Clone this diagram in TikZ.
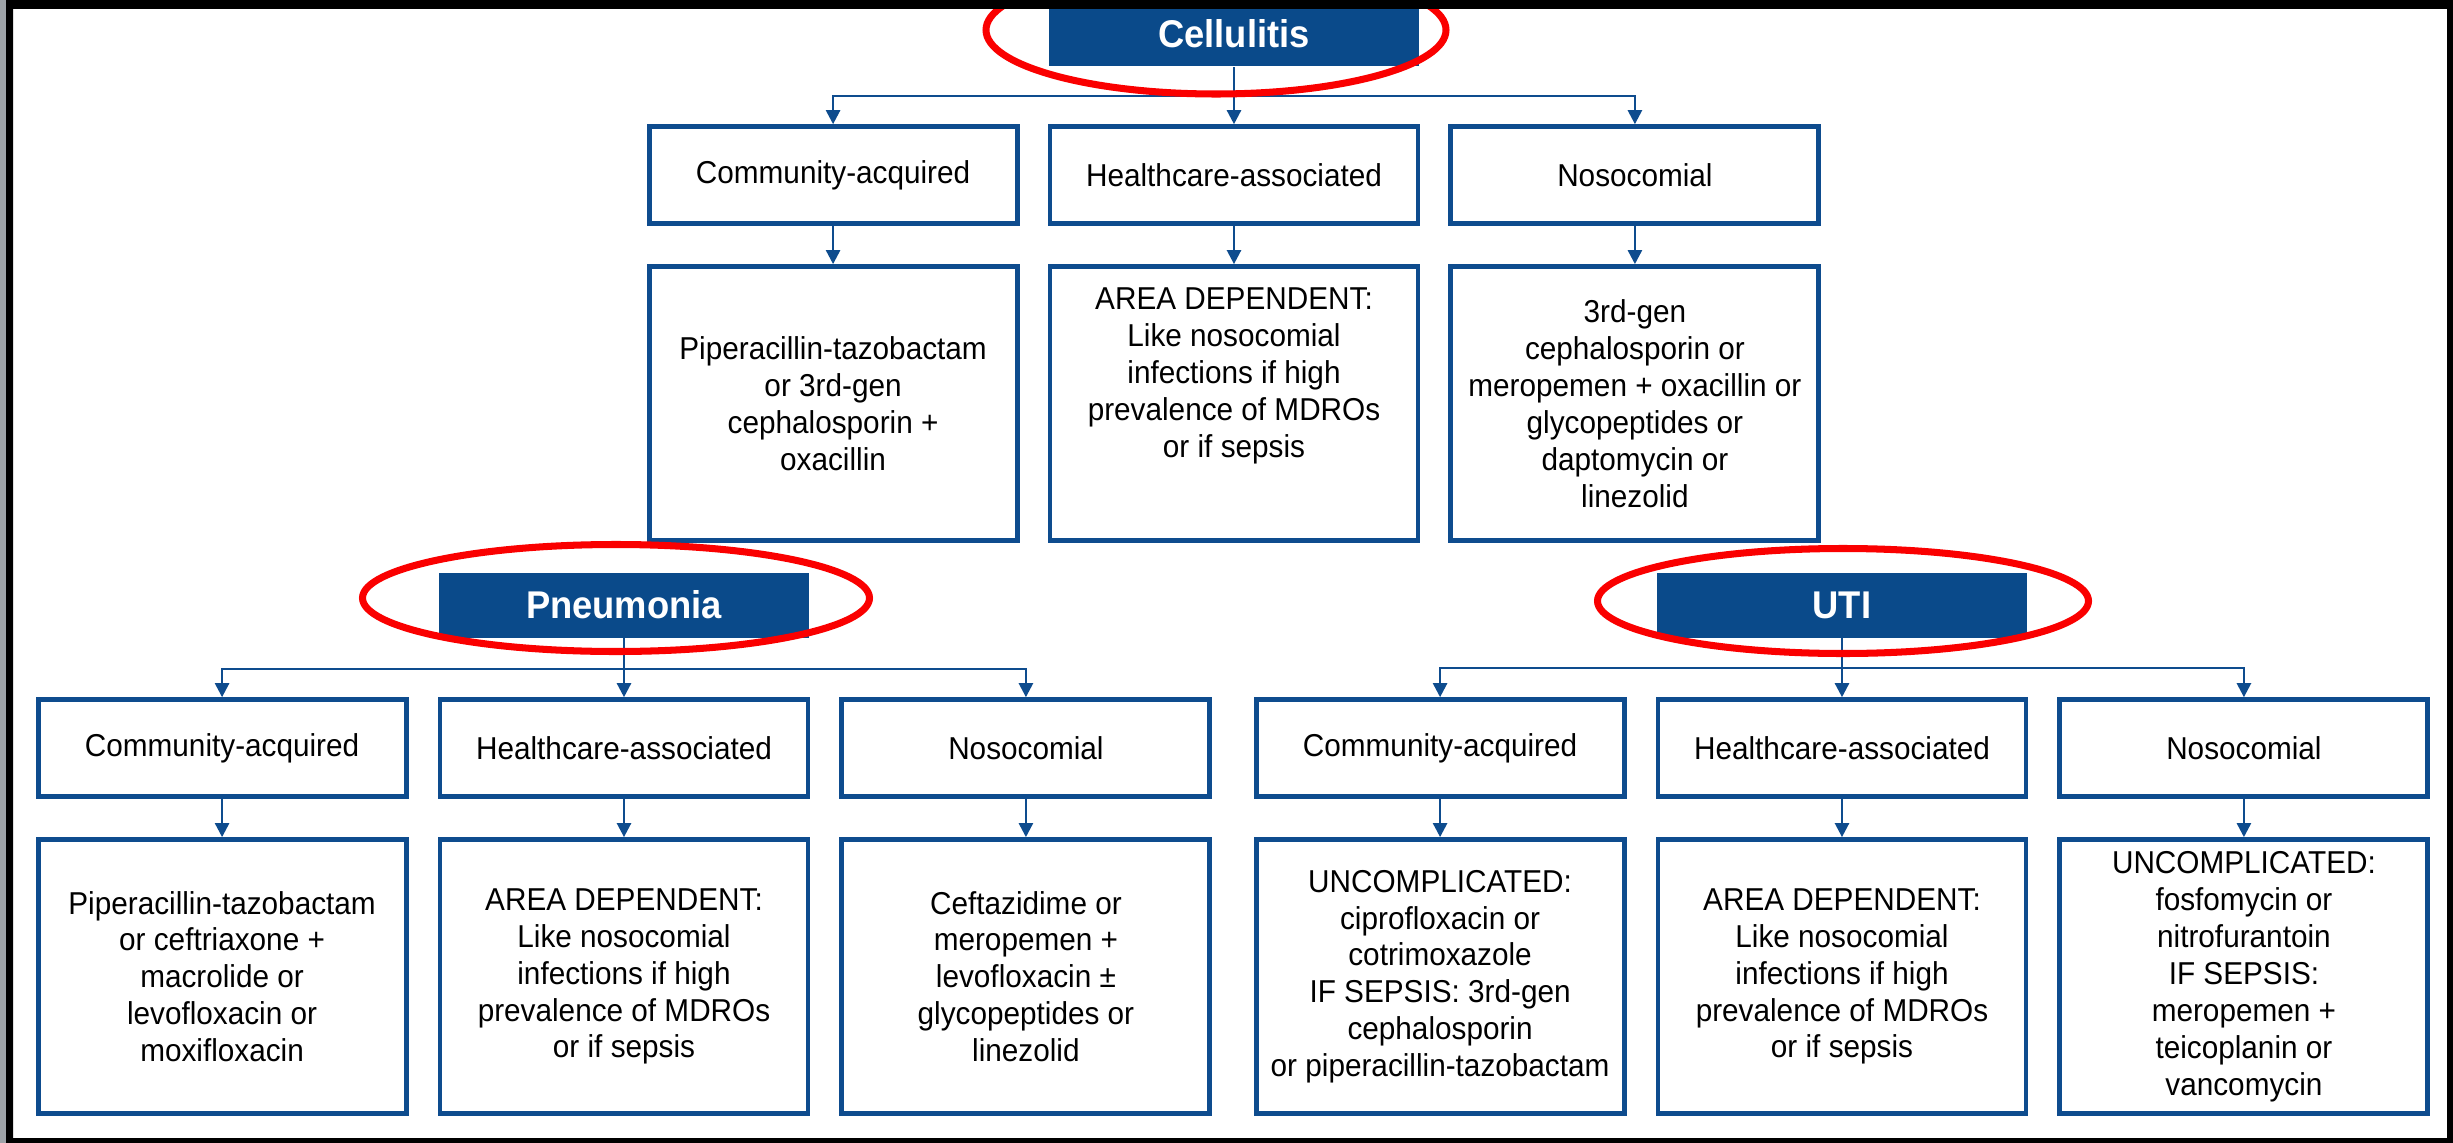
\documentclass[tikz,border=0pt]{standalone}
\usepackage{fontspec}
\setmainfont{Liberation Sans}[FakeStretch=0.94]
\usepackage{tikz}
\usetikzlibrary{positioning, arrows.meta, shapes.geometric}

\definecolor{hdblue}{RGB}{10,74,138}
\definecolor{boxblue}{RGB}{14,76,142}
\definecolor{ringred}{RGB}{250,0,0}
\definecolor{edgegray}{RGB}{158,163,168}

\begin{document}
\begin{tikzpicture}[
    node distance=0.38cm and 0.28cm,
    head/.style={rectangle, fill=hdblue, text=white, font=\fontsize{11}{13}\selectfont\bfseries, minimum width=3.70cm, minimum height=0.65cm, inner sep=0pt},
    cat/.style={rectangle, draw=boxblue, line width=1.4pt, fill=white, minimum width=3.68cm, minimum height=0.97cm, align=center, inner sep=2pt, font=\fontsize{9}{10.5}\selectfont},
    rx/.style={cat, minimum height=2.74cm},
    arrow/.style={-{Triangle[width=0.14cm, length=0.14cm]}, draw=boxblue, line width=0.7pt},
    ring/.style={draw=ringred, line width=2pt}
  ]
    \useasboundingbox (0,0) rectangle (24.53,-11.43);
    % Frame
    \fill[black] (0,0) rectangle (24.53,-11.43);
    \fill[white] (0.13,-0.09) rectangle (24.47,-11.38);

    % Cellulitis
    \node[head] (cel) at (12.34,-0.34) {Cellulitis};
    \node[cat, below=0.57cm of cel] (celHA) {Healthcare-associated};
    \node[cat, left=of celHA] (celCA) {Community-acquired};
    \node[cat, right=of celHA] (celNO) {Nosocomial};
    \node[rx, below=of celCA] (celCAt) {Piperacillin-tazobactam\\or 3rd-gen\\cephalosporin +\\oxacillin};
    \node[rx, below=of celHA] (celHAt) {AREA DEPENDENT:\\Like nosocomial\\infections if high\\prevalence of MDROs\\or if sepsis\\[0.25cm]};
    \node[rx, below=of celNO] (celNOt) {3rd-gen\\cephalosporin or\\meropemen + oxacillin or\\glycopeptides or\\daptomycin or\\linezolid};

    % Pneumonia
    \node[head] (pn) at (6.24,-6.05) {Pneumonia};
    \node[cat, below=0.59cm of pn] (pnHA) {Healthcare-associated};
    \node[cat, left=0.29cm of pnHA] (pnCA) {Community-acquired};
    \node[cat, right=0.29cm of pnHA] (pnNO) {Nosocomial};
    \node[rx, below=of pnCA] (pnCAt) {Piperacillin-tazobactam\\or ceftriaxone +\\macrolide or\\levofloxacin or\\moxifloxacin};
    \node[rx, below=of pnHA] (pnHAt) {AREA DEPENDENT:\\Like nosocomial\\infections if high\\prevalence of MDROs\\or if sepsis};
    \node[rx, below=of pnNO] (pnNOt) {Ceftazidime or\\meropemen +\\levofloxacin ±\\glycopeptides or\\linezolid};

    % UTI
    \node[head] (uti) at (18.42,-6.05) {UTI};
    \node[cat, below=0.59cm of uti] (utiHA) {Healthcare-associated};
    \node[cat, left=0.29cm of utiHA] (utiCA) {Community-acquired};
    \node[cat, right=0.29cm of utiHA] (utiNO) {Nosocomial};
    \node[rx, below=of utiCA] (utiCAt) {UNCOMPLICATED:\\ciprofloxacin or\\cotrimoxazole\\IF SEPSIS: 3rd-gen\\cephalosporin\\or piperacillin-tazobactam};
    \node[rx, below=of utiHA] (utiHAt) {AREA DEPENDENT:\\Like nosocomial\\infections if high\\prevalence of MDROs\\or if sepsis};
    \node[rx, below=of utiNO] (utiNOt) {UNCOMPLICATED:\\fosfomycin or\\nitrofurantoin\\IF SEPSIS:\\meropemen +\\teicoplanin or\\vancomycin};

    % Arrows
    \draw[arrow] (cel.south) -- ++(0,-0.29) -| (celCA.north);
    \draw[arrow] (cel) -- (celHA);
    \draw[arrow] (cel.south) -- ++(0,-0.29) -| (celNO.north);
    \draw[arrow] (celCA) -- (celCAt);
    \draw[arrow] (celHA) -- (celHAt);
    \draw[arrow] (celNO) -- (celNOt);

    \draw[arrow] (pn.south) -- ++(0,-0.31) -| (pnCA.north);
    \draw[arrow] (pn) -- (pnHA);
    \draw[arrow] (pn.south) -- ++(0,-0.31) -| (pnNO.north);
    \draw[arrow] (pnCA) -- (pnCAt);
    \draw[arrow] (pnHA) -- (pnHAt);
    \draw[arrow] (pnNO) -- (pnNOt);

    \draw[arrow] (uti.south) -- ++(0,-0.30) -| (utiCA.north);
    \draw[arrow] (uti) -- (utiHA);
    \draw[arrow] (uti.south) -- ++(0,-0.30) -| (utiNO.north);
    \draw[arrow] (utiCA) -- (utiCAt);
    \draw[arrow] (utiHA) -- (utiHAt);
    \draw[arrow] (utiNO) -- (utiNOt);

    % Red rings
    \draw[ring] (12.16,-0.30) ellipse [x radius=2.30cm, y radius=0.64cm];
    \draw[ring] (6.16,-5.98) ellipse [x radius=2.535cm, y radius=0.535cm];
    \draw[ring] (18.43,-6.01) ellipse [x radius=2.455cm, y radius=0.525cm];

    % Frame on top
    \fill[black, even odd rule] (0,0) rectangle (24.53,-11.43) (0.13,-0.09) rectangle (24.47,-11.38);
    \fill[edgegray] (0,0) rectangle (0.06,-11.43);
\end{tikzpicture}
\end{document}
